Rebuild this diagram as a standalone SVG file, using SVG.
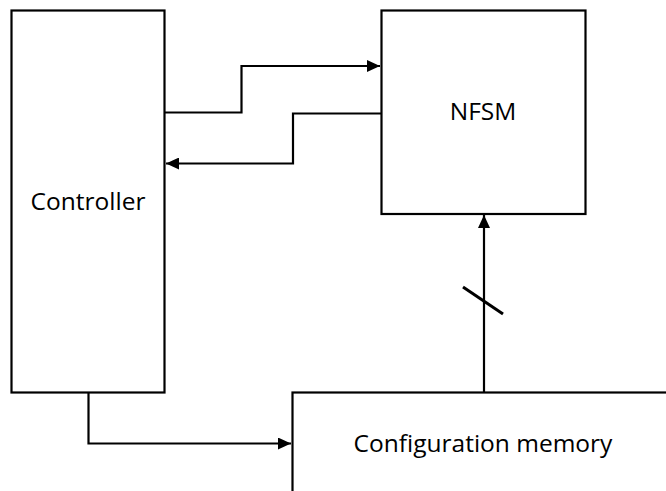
<svg xmlns="http://www.w3.org/2000/svg" width="666" height="491" viewBox="0 0 666 491">
<style>
.box{fill:#fff;stroke:#000;stroke-width:2.2}
.ln{fill:none;stroke:#000;stroke-width:2.2}
.t{font-family:"Open Sans","Liberation Sans",sans-serif;font-size:24.5px;fill:#000;text-anchor:middle}
</style>
<defs>
<marker id="ah" markerWidth="14" markerHeight="12" refX="13" refY="6" orient="auto" markerUnits="userSpaceOnUse">
<path d="M0,0 L13,6 L0,12 Z" fill="#000"/>
</marker>
</defs>
<rect width="666" height="491" fill="#fff"/>
<g id="controller">
<rect class="box" x="11.5" y="10.5" width="153" height="382"/>
<text class="t" x="88" y="210">Controller</text>
</g>
<g id="nfsm">
<rect class="box" x="381.5" y="10.5" width="204" height="203.5"/>
<text class="t" x="483" y="119.5">NFSM</text>
</g>
<g id="config">
<rect class="box" x="292.5" y="392.5" width="380" height="110"/>
<text class="t" x="483" y="452">Configuration memory</text>
</g>
<g id="connectors">
<path class="ln" d="M165,112.5 H241.5 V66 H380" marker-end="url(#ah)"/>
<path class="ln" d="M381,113.5 H293 V163.5 H166" marker-end="url(#ah)"/>
<path class="ln" d="M484,392 V215" marker-end="url(#ah)"/>
<path class="ln" d="M463,287 L503,314" style="stroke-width:3"/>
<path class="ln" d="M88.5,392 V443.5 H291" marker-end="url(#ah)"/>
</g>
</svg>
